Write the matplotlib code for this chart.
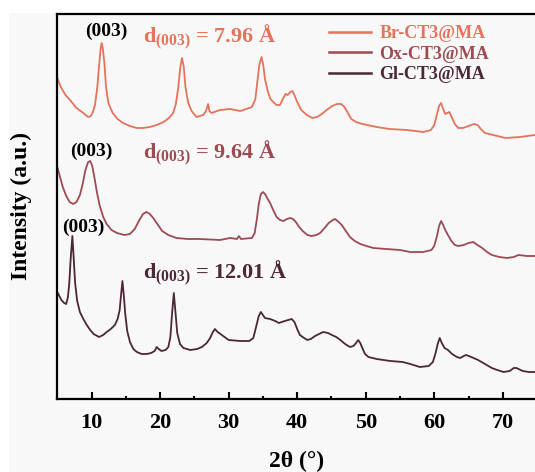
import numpy as np
import matplotlib
matplotlib.use("Agg")
import matplotlib.pyplot as plt
from matplotlib.patches import Rectangle
from matplotlib.ticker import MultipleLocator

plt.rcParams["font.family"] = ["Liberation Serif", "DejaVu Serif"]
plt.rcParams["font.weight"] = "bold"
plt.rcParams["mathtext.fontset"] = "custom"
plt.rcParams["mathtext.rm"] = "Liberation Serif:bold"
plt.rcParams["mathtext.bf"] = "Liberation Serif:bold"
plt.rcParams["mathtext.it"] = "Liberation Serif:bold"

# XRD patterns (2theta in degrees, intensity in arbitrary units)
br_x = [5.0, 5.5, 6.2, 6.85, 7.8, 8.8, 9.5, 9.9, 10.2, 10.5, 10.84, 11.13, 11.33, 11.48, 11.63,
        11.87, 12.11, 12.45, 13.08, 13.8, 14.6, 15.6, 16.6, 17.5, 18.5, 19.5, 20.5, 21.3, 21.9,
        22.3, 22.66, 22.95, 23.2, 23.45, 23.7, 24.1, 24.6, 25.3, 26.3, 26.7, 27.0, 27.2, 27.5,
        28.75, 30.2, 31.7, 33.4, 33.9, 34.2, 34.5, 34.8, 35.05, 35.3, 35.7, 36.1, 36.5, 37.0,
        37.5, 37.9, 38.3, 38.6, 39.0, 39.3, 39.6, 40.0, 40.6, 41.4, 42.2, 42.9, 43.6, 44.3,
        45.1, 45.8, 46.4, 46.9, 47.4, 47.9, 48.6, 49.5, 51.6, 53.5, 56.0, 58.4, 59.5, 60.0,
        60.4, 60.7, 61.0, 61.3, 61.6, 61.9, 62.2, 62.6, 63.0, 63.5, 64.2, 65.0, 65.8, 66.3,
        66.8, 67.4, 68.6, 70.4, 72.5, 74.7]
br_y = [321, 312, 304, 299, 291, 286, 282, 283, 287, 294, 312, 336, 351, 356, 351,
        336, 312, 296, 286, 280, 276, 273, 271, 271, 272, 274, 277, 281, 286,
        295, 312, 332, 341, 332, 312, 296, 288, 282, 284, 288, 295, 288, 286,
        289, 290, 288, 292, 300, 318, 335, 342, 334, 320, 308, 300, 297, 294,
        294, 300, 305, 304, 307, 308, 304, 297, 289, 284, 281, 282, 285, 289,
        293, 295, 295, 292, 286, 280, 277, 275, 272, 270, 269, 267, 269, 274,
        285, 293, 296, 290, 285, 286, 287, 281, 275, 271, 271, 273, 275, 274,
        270, 266, 264, 261, 262, 264]

ox_x = [5.0, 5.4, 5.8, 6.3, 6.8, 7.3, 7.8, 8.3, 8.7, 9.1, 9.5, 9.8, 10.1, 10.4, 10.8,
        11.2, 11.7, 12.2, 12.9, 13.7, 14.8, 15.6, 16.3, 16.9, 17.5, 18.0, 18.5, 19.0, 19.6,
        20.3, 21.2, 22.4, 24.0, 25.8, 28.75, 30.2, 31.2, 31.5, 31.8, 33.4, 33.8, 34.1, 34.4,
        34.7, 35.0, 35.3, 35.7, 36.05, 36.5, 37.0, 37.5, 38.0, 38.5, 39.0, 39.4, 39.8, 40.3,
        40.8, 41.5, 42.1, 42.8, 43.35, 44.0, 44.6, 45.2, 45.5, 45.9, 46.5, 47.1, 47.7, 48.4,
        49.2, 50.1, 51.1, 53.0, 55.0, 56.5, 58.4, 59.6, 60.0, 60.4, 60.7, 61.0, 61.3, 61.6,
        62.0, 62.5, 63.0, 63.5, 64.3, 65.0, 65.7, 66.3, 67.0, 67.7, 68.4, 69.5, 70.6, 71.6,
        72.3, 73.5, 74.7]
ox_y = [232, 222, 212, 203, 197, 195, 197, 204, 215, 229, 237, 238, 233, 222, 206,
        193, 182, 175, 169, 166, 164, 165, 170, 178, 185, 187, 185, 181, 175,
        168, 164, 161, 160, 160, 159, 161, 160, 163, 160, 161, 166, 179, 195,
        205, 207, 205, 200, 196, 189, 182, 179, 178, 180, 181, 180, 177, 172,
        168, 164, 163, 164, 166, 171, 176, 179, 180, 178, 174, 168, 162, 158,
        155, 153, 151, 150, 149, 147, 147, 149, 153, 163, 173, 178, 174, 169,
        164, 158, 154, 153, 154, 156, 157, 154, 151, 147, 144, 142, 141, 142,
        144, 143, 143]

gl_x = [5.0, 5.3, 5.6, 6.0, 6.3, 6.55, 6.75, 6.95, 7.2, 7.4, 7.6, 7.9, 8.3, 8.8, 9.3,
        9.8, 10.3, 11.1, 11.7, 12.2, 12.8, 13.4, 13.8, 14.1, 14.3, 14.5, 14.7, 14.9, 15.2,
        15.6, 16.1, 16.6, 17.3, 18.05, 18.7, 19.2, 19.5, 19.8, 20.2, 20.8, 21.2, 21.5, 21.75,
        22.0, 22.25, 22.5, 22.9, 23.4, 24.4, 25.4, 26.1, 26.8, 27.3, 27.7, 28.0, 28.4, 29.2,
        30.0, 31.7, 33.0, 33.6, 34.0, 34.4, 34.7, 35.0, 35.3, 36.05, 36.8, 37.3, 38.2, 39.2,
        39.6, 40.0, 40.4, 41.0, 41.5, 42.0, 42.6, 43.2, 43.8, 44.5, 45.05, 45.7, 46.3, 47.0,
        47.7, 48.2, 48.6, 48.9, 49.2, 49.5, 49.9, 50.4, 51.6, 53.6, 55.4, 56.5, 57.9, 59.2,
        59.8, 60.2, 60.5, 60.8, 61.1, 61.5, 62.0, 62.6, 63.3, 63.8, 64.3, 64.65, 65.4, 66.4,
        67.4, 68.4, 69.2, 70.1, 71.0, 71.6, 72.0, 72.9, 73.8, 74.7]
gl_y = [107, 103, 99, 96, 95, 102, 116, 140, 163, 140, 116, 98, 87, 80, 74,
        69, 65, 62, 64, 67, 70, 74, 80, 89, 104, 118, 104, 86, 68,
        57, 50, 47, 45, 45, 46, 48, 52, 50, 48, 49, 52, 62, 86,
        106, 86, 66, 55, 51, 49, 50, 52, 56, 61, 67, 70, 67, 63,
        59, 58, 58, 61, 72, 83, 87, 84, 81, 80, 78, 76, 78, 80,
        77, 70, 64, 61, 59, 60, 63, 65, 67, 66, 64, 62, 59, 55,
        52, 53, 56, 59, 56, 51, 45, 42, 40, 38, 37, 35, 32, 33,
        37, 46, 55, 61, 56, 51, 49, 45, 42, 41, 43, 44, 42, 39,
        35, 31, 29, 27, 28, 31, 31, 28, 27, 27]

labels = ["Br-CT3@MA", "Ox-CT3@MA", "Gl-CT3@MA"]
colors = ["#E5735B", "#9C4B52", "#4B2737"]
d_texts = ["7.96", "9.64", "12.01"]

W, H = 535, 472
fig = plt.figure(figsize=(W / 100, H / 100), dpi=100, facecolor="white")
bg = Rectangle((8.5 / W, 0), 1, 1 - 12.5 / H, transform=fig.transFigure,
               facecolor="#f8f8f8", edgecolor="none", zorder=-10)
fig.add_artist(bg)

ax = fig.add_axes([57.3 / W, 1 - 399 / H, 1 - 57.3 / W, (399 - 13.5) / H])
ax.set_facecolor("#f8f8f8")

for xs, ys, c, lab in zip([br_x, ox_x, gl_x], [br_y, ox_y, gl_y], colors, labels):
    ax.plot(xs, ys, color=c, lw=1.3, label=lab)

ax.set_xlim(5, 74.7)
ax.set_ylim(0, 385.5)
ax.xaxis.set_major_locator(MultipleLocator(10))
ax.xaxis.set_minor_locator(MultipleLocator(5))
ax.set_yticks([])
ax.tick_params(axis="x", which="major", direction="in", length=5, width=1.5, labelsize=16, pad=10)
ax.tick_params(axis="x", which="minor", direction="in", length=2.5, width=1.5)
ax.spines["right"].set_visible(False)
for s in ["left", "bottom", "top"]:
    ax.spines[s].set_linewidth(1.6)

ax.set_xlabel("2θ (°)", fontsize=17, fontweight="bold", labelpad=13)
ax.set_ylabel("Intensity (a.u.)", fontsize=17, fontweight="bold", labelpad=18)

# peak labels
ax.text(12.1, 368, "(003)", fontsize=14, ha="center", va="center", color="black")
ax.text(10.0, 248, "(003)", fontsize=14, ha="center", va="center", color="black")
ax.text(8.8, 172, "(003)", fontsize=14, ha="center", va="center", color="black")

for ypos, dt, c in zip([357, 240.7, 120.7], d_texts, colors):
    ax.text(17.5, ypos, r"d$_{(003)}$ = " + dt + " Å", fontsize=16, color=c,
            ha="left", va="baseline")

leg = ax.legend(loc="upper left", bbox_to_anchor=(329 / W, 1 - 25 / H),
                bbox_transform=fig.transFigure, frameon=False, fontsize=13,
                handlelength=2.3, handletextpad=0.5, labelspacing=0.2,
                borderpad=0, borderaxespad=0, labelcolor="linecolor")
for line in leg.get_lines():
    line.set_linewidth(1.8)

fig.savefig("out.png", dpi=100, facecolor=fig.get_facecolor())
